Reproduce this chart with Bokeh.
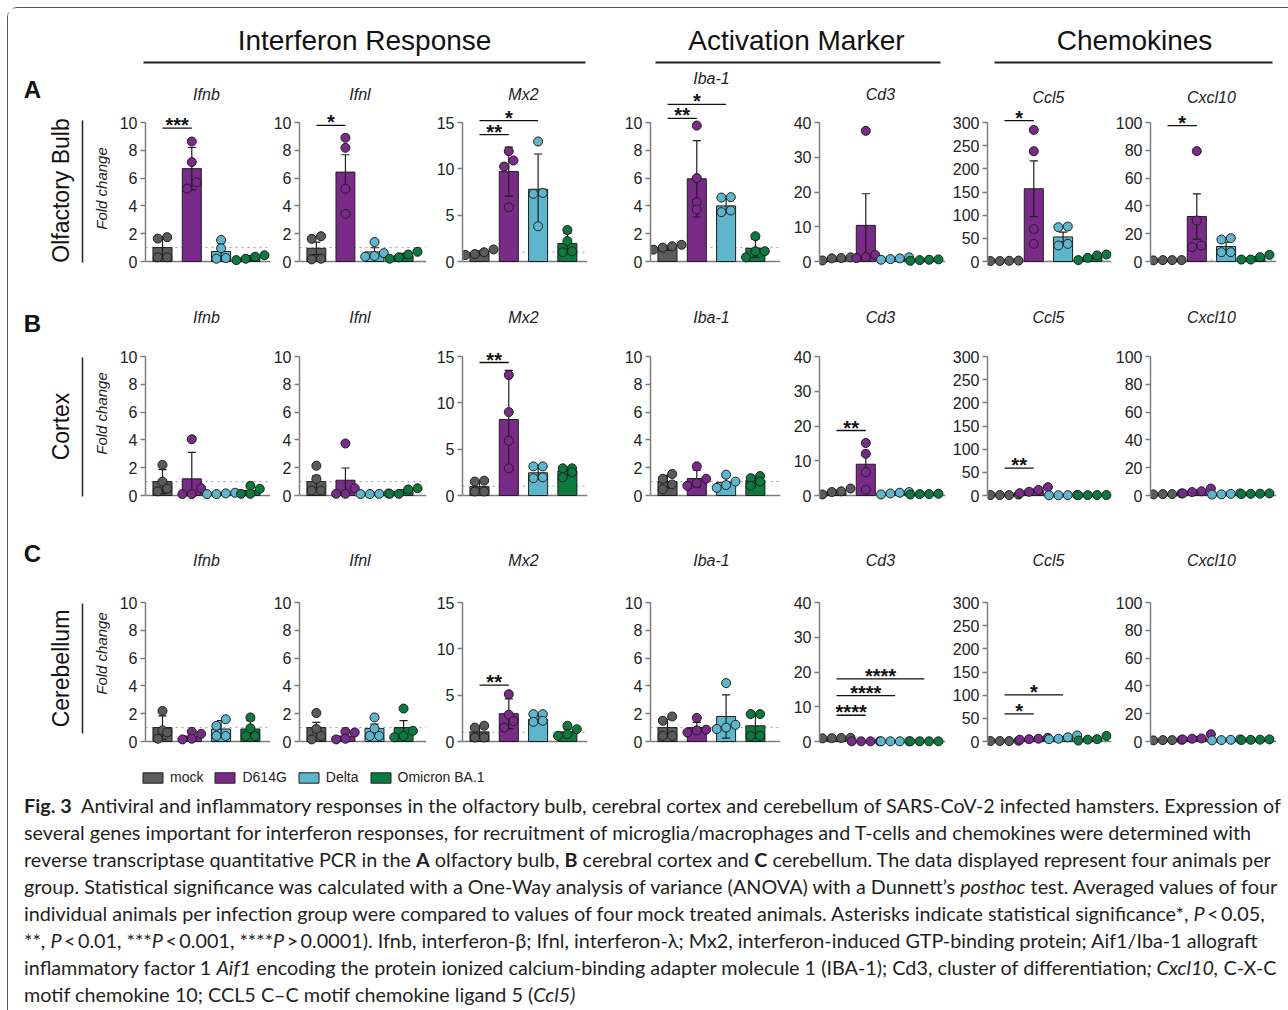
import math
from bokeh.plotting import figure
from bokeh.models import Range1d, FixedTicker, Span, Label, Div, Legend, LegendItem
from bokeh.layouts import row, column
from bokeh.embed import file_html
from bokeh.resources import INLINE

# ---------------- data ----------------
GROUPS = ["mock", "D614G", "Delta", "Omicron BA.1"]
COLORS = ["#5b5b5b", "#7a2a89", "#5cb6cc", "#0b7a3f"]
GENES = ["Ifnb", "Ifnl", "Mx2", "Iba-1", "Cd3", "Ccl5", "Cxcl10"]
Y_TOPS = [10, 10, 15, 10, 40, 300, 100]
TICKS_10 = [0, 2, 4, 6, 8, 10]
TICKS_15 = [0, 5, 10, 15]
TICKS_40 = [0, 10, 20, 30, 40]
TICKS_300 = [0, 50, 100, 150, 200, 250, 300]
TICKS_100 = [0, 20, 40, 60, 80, 100]
GENE_TICKS = [TICKS_10, TICKS_10, TICKS_15, TICKS_10, TICKS_40, TICKS_300, TICKS_100]
REGIONS = ["Olfactory Bulb", "Cortex", "Cerebellum"]
PANEL_LETTERS = ["A", "B", "C"]
SECTIONS = ["Interferon Response", "Activation Marker", "Chemokines"]
REF_LEVEL = 1.0

# Olfactory bulb (A): bar mean, error-bar half length, four animals, significance (vs mock)
OB_IFNB_MEAN = [1.0, 6.68, 0.72, 0.27]
OB_IFNB_ERR = [0.78, 1.52, 0.6, 0.15]
OB_IFNB_PTS = [[1.65, 1.75, 0.3, 0.3], [8.63, 7.15, 5.25, 5.7], [1.55, 0.95, 0.2, 0.25], [0.1, 0.35, 0.2, 0.45]]
OB_IFNB_SIG = [(1, 9.6, "***")]
OB_IFNL_MEAN = [0.95, 6.43, 0.69, 0.43]
OB_IFNL_ERR = [0.45, 1.25, 0.3, 0.15]
OB_IFNL_PTS = [[1.63, 1.82, 0.2, 0.15], [8.9, 8.18, 5.23, 3.43], [1.4, 0.6, 0.4, 0.35], [0.7, 0.5, 0.3, 0.2]]
OB_IFNL_SIG = [(1, 9.8, "*")]
OB_MX2_MEAN = [0.95, 9.7, 7.8, 1.95]
OB_MX2_ERR = [0.2, 2.65, 3.8, 1.1]
OB_MX2_PTS = [[1.3, 1.0, 0.8, 0.7], [11.9, 10.9, 10.25, 5.86], [12.95, 7.4, 7.3, 3.8], [3.4, 2.2, 1.1, 1.0]]
OB_MX2_SIG = [(1, 13.7, "**"), (2, 15.2, "*")]
OB_IBA1_MEAN = [0.95, 5.95, 4.0, 0.95]
OB_IBA1_ERR = [0.15, 2.75, 0.5, 0.65]
OB_IBA1_PTS = [[1.2, 1.1, 1.0, 0.85], [9.78, 6.0, 4.27, 3.74], [4.63, 4.6, 3.67, 3.55], [1.82, 0.74, 0.74, 0.3]]
OB_IBA1_SIG = [(1, 10.3, "**"), (2, 11.3, "*")]
OB_CD3_MEAN = [0.85, 10.4, 0.8, 0.45]
OB_CD3_ERR = [0.3, 9.1, 0.2, 0.15]
OB_CD3_PTS = [[0.3, 1.2, 1.0, 0.9], [37.6, 1.9, 1.25, 1.0], [1.2, 0.7, 0.9, 0.5], [0.2, 0.6, 0.5, 0.4]]
OB_CD3_SIG = []
OB_CCL5_MEAN = [1.2, 157, 53, 9.5]
OB_CCL5_ERR = [0.5, 60, 10.5, 3]
OB_CCL5_PTS = [[2, 1, 1.5, 1], [284, 238, 70, 38], [74, 75.5, 34.5, 38], [15, 8, 13, 3]]
OB_CCL5_SIG = [(1, 304, "*")]
OB_CXCL10_MEAN = [0.95, 32.4, 10.8, 2.6]
OB_CXCL10_ERR = [0.1, 16.3, 3.1, 0.9]
OB_CXCL10_PTS = [[1, 1, 1, 0.8], [79.4, 29.5, 11.5, 10.3], [15.8, 16.8, 6.7, 6.7], [4.8, 1.4, 1.4, 3.1]]
OB_CXCL10_SIG = [(1, 97.8, "*")]

# Cortex (B)
CX_IFNB_MEAN = [1.0, 1.2, 0.12, 0.36]
CX_IFNB_ERR = [0.86, 1.9, 0.05, 0.3]
CX_IFNB_PTS = [[2.2, 1.0, 0.3, 0.5], [4.05, 0.52, 0.1, 0.1], [0.2, 0.1, 0.15, 0.1], [0.7, 0.48, 0.12, 0.12]]
CX_IFNB_SIG = []
CX_IFNL_MEAN = [1.0, 1.1, 0.12, 0.3]
CX_IFNL_ERR = [0.43, 0.88, 0.05, 0.12]
CX_IFNL_PTS = [[2.14, 1.19, 0.36, 0.36], [3.74, 0.52, 0.12, 0.12], [0.15, 0.1, 0.12, 0.1], [0.52, 0.43, 0.12, 0.12]]
CX_IFNL_SIG = []
CX_MX2_MEAN = [0.95, 8.2, 2.45, 2.65]
CX_MX2_ERR = [0.65, 5.3, 0.7, 0.45]
CX_MX2_PTS = [[1.6, 1.5, 0.43, 0.43], [13.0, 9.0, 5.9, 2.93], [3.14, 3.14, 1.86, 1.96], [2.93, 2.93, 2.5, 1.96]]
CX_MX2_SIG = [(1, 14.35, "**")]
CX_IBA1_MEAN = [1.0, 1.22, 0.95, 1.08]
CX_IBA1_ERR = [0.45, 0.6, 0.35, 0.25]
CX_IBA1_PTS = [[1.55, 1.2, 0.45, 0.8], [2.1, 1.2, 0.9, 0.7], [1.5, 1.0, 0.55, 0.75], [1.4, 1.25, 1.0, 0.7]]
CX_IBA1_SIG = []
CX_CD3_MEAN = [1.1, 9.0, 0.7, 0.4]
CX_CD3_ERR = [0.4, 2.5, 0.2, 0.1]
CX_CD3_PTS = [[2.0, 1.0, 1.2, 0.3], [15.1, 12.0, 6.7, 1.7], [1.0, 0.6, 0.8, 0.3], [0.4, 0.5, 0.3, 0.4]]
CX_CD3_SIG = [(1, 18.7, "**")]
CX_CCL5_MEAN = [1.2, 10.8, 0.7, 0.9]
CX_CCL5_ERR = [0.3, 3.0, 0.2, 0.1]
CX_CCL5_PTS = [[2, 1, 1, 1], [18, 12, 8, 5], [1, 0.5, 0.8, 0.5], [1, 0.8, 1, 0.7]]
CX_CCL5_SIG = [(1, 58.9, "**")]
CX_CXCL10_MEAN = [1.1, 3.0, 1.05, 1.25]
CX_CXCL10_ERR = [0.2, 0.8, 0.2, 0.1]
CX_CXCL10_PTS = [[1.5, 1, 0.8, 1], [5, 3, 2.5, 1.5], [1.5, 1.2, 0.8, 0.7], [1.5, 1.2, 1.3, 1.0]]
CX_CXCL10_SIG = []

# Cerebellum (C)
CB_IFNB_MEAN = [1.0, 0.4, 0.9, 0.9]
CB_IFNB_ERR = [0.85, 0.3, 0.6, 0.6]
CB_IFNB_PTS = [[2.2, 0.8, 0.65, 0.2], [0.7, 0.55, 0.2, 0.15], [1.6, 1.13, 0.4, 0.4], [1.73, 0.95, 0.4, 0.4]]
CB_IFNB_SIG = []
CB_IFNL_MEAN = [1.0, 0.4, 0.94, 1.0]
CB_IFNL_ERR = [0.37, 0.3, 0.31, 0.5]
CB_IFNL_PTS = [[2.05, 0.9, 0.4, 0.15], [0.7, 0.65, 0.2, 0.15], [1.73, 0.94, 0.4, 0.4], [2.37, 0.77, 0.3, 0.4]]
CB_IFNL_SIG = []
CB_MX2_MEAN = [1.04, 3.0, 2.4, 1.04]
CB_MX2_ERR = [0.6, 1.6, 0.4, 0.3]
CB_MX2_PTS = [[1.5, 1.7, 0.43, 0.43], [5.1, 2.9, 2.2, 1.5], [2.95, 2.95, 2.23, 2.12], [1.7, 1.33, 0.61, 0.79]]
CB_MX2_SIG = [(1, 6.08, "**")]
CB_IBA1_MEAN = [1.0, 1.0, 1.8, 1.13]
CB_IBA1_ERR = [0.6, 0.37, 1.56, 0.9]
CB_IBA1_PTS = [[1.8, 1.49, 0.41, 0.41], [1.7, 0.85, 0.8, 0.65], [4.2, 1.2, 1.0, 0.9], [1.97, 1.97, 0.41, 0.41]]
CB_IBA1_SIG = []
CB_CD3_MEAN = [1.0, 0.05, 0.05, 0.05]
CB_CD3_ERR = [0.1, 0.02, 0.02, 0.02]
CB_CD3_PTS = [[1.0, 1.05, 0.95, 0.9], [0.05, 0.05, 0.05, 0.05], [0.05, 0.05, 0.05, 0.05], [0.05, 0.05, 0.05, 0.05]]
CB_CD3_SIG = [(1, 7.55, "****"), (2, 13.2, "****"), (3, 18.0, "****")]
CB_CCL5_MEAN = [1.2, 5.5, 8.0, 5.5]
CB_CCL5_ERR = [0.2, 1.0, 2.0, 2.0]
CB_CCL5_PTS = [[1.5, 1, 1, 1], [6, 8, 5, 4], [13, 9, 6, 5], [12, 5, 4, 2]]
CB_CCL5_SIG = [(1, 59.7, "*"), (2, 100.7, "*")]
CB_CXCL10_MEAN = [1.0, 2.7, 1.1, 1.3]
CB_CXCL10_ERR = [0.1, 0.8, 0.2, 0.1]
CB_CXCL10_PTS = [[1.2, 1, 0.8, 1], [5.2, 2.2, 2.0, 1.5], [1.5, 1.2, 1, 0.8], [1.5, 1.2, 1.3, 1.1]]
CB_CXCL10_SIG = []

ROWS_DATA = [
    [(OB_IFNB_MEAN, OB_IFNB_ERR, OB_IFNB_PTS, OB_IFNB_SIG), (OB_IFNL_MEAN, OB_IFNL_ERR, OB_IFNL_PTS, OB_IFNL_SIG),
     (OB_MX2_MEAN, OB_MX2_ERR, OB_MX2_PTS, OB_MX2_SIG), (OB_IBA1_MEAN, OB_IBA1_ERR, OB_IBA1_PTS, OB_IBA1_SIG),
     (OB_CD3_MEAN, OB_CD3_ERR, OB_CD3_PTS, OB_CD3_SIG), (OB_CCL5_MEAN, OB_CCL5_ERR, OB_CCL5_PTS, OB_CCL5_SIG),
     (OB_CXCL10_MEAN, OB_CXCL10_ERR, OB_CXCL10_PTS, OB_CXCL10_SIG)],
    [(CX_IFNB_MEAN, CX_IFNB_ERR, CX_IFNB_PTS, CX_IFNB_SIG), (CX_IFNL_MEAN, CX_IFNL_ERR, CX_IFNL_PTS, CX_IFNL_SIG),
     (CX_MX2_MEAN, CX_MX2_ERR, CX_MX2_PTS, CX_MX2_SIG), (CX_IBA1_MEAN, CX_IBA1_ERR, CX_IBA1_PTS, CX_IBA1_SIG),
     (CX_CD3_MEAN, CX_CD3_ERR, CX_CD3_PTS, CX_CD3_SIG), (CX_CCL5_MEAN, CX_CCL5_ERR, CX_CCL5_PTS, CX_CCL5_SIG),
     (CX_CXCL10_MEAN, CX_CXCL10_ERR, CX_CXCL10_PTS, CX_CXCL10_SIG)],
    [(CB_IFNB_MEAN, CB_IFNB_ERR, CB_IFNB_PTS, CB_IFNB_SIG), (CB_IFNL_MEAN, CB_IFNL_ERR, CB_IFNL_PTS, CB_IFNL_SIG),
     (CB_MX2_MEAN, CB_MX2_ERR, CB_MX2_PTS, CB_MX2_SIG), (CB_IBA1_MEAN, CB_IBA1_ERR, CB_IBA1_PTS, CB_IBA1_SIG),
     (CB_CD3_MEAN, CB_CD3_ERR, CB_CD3_PTS, CB_CD3_SIG), (CB_CCL5_MEAN, CB_CCL5_ERR, CB_CCL5_PTS, CB_CCL5_SIG),
     (CB_CXCL10_MEAN, CB_CXCL10_ERR, CB_CXCL10_PTS, CB_CXCL10_SIG)],
]

CAPTION_LINES = [
    "<b>Fig.&nbsp;3</b>&nbsp; Antiviral and inflammatory responses in the olfactory bulb, cerebral cortex and cerebellum of SARS-CoV-2 infected hamsters. Expression of",
    "several genes important for interferon responses, for recruitment of microglia/macrophages and T-cells and chemokines were determined with",
    "reverse transcriptase quantitative PCR in the <b>A</b> olfactory bulb, <b>B</b> cerebral cortex and <b>C</b> cerebellum. The data displayed represent four animals per",
    "group. Statistical significance was calculated with a One-Way analysis of variance (ANOVA) with a Dunnett\u2019s <i>posthoc</i> test. Averaged values of four",
    "individual animals per infection group were compared to values of four mock treated animals. Asterisks indicate statistical significance*, <i>P</i>&thinsp;&lt;&thinsp;0.05,",
    "**, <i>P</i>&thinsp;&lt;&thinsp;0.01, ***<i>P</i>&thinsp;&lt;&thinsp;0.001, ****<i>P</i>&thinsp;&gt;&thinsp;0.0001). Ifnb, interferon-\u03b2; Ifnl, interferon-\u03bb; Mx2, interferon-induced GTP-binding protein; Aif1/Iba-1 allograft",
    "inflammatory factor 1 <i>Aif1</i> encoding the protein ionized calcium-binding adapter molecule 1 (IBA-1); Cd3, cluster of differentiation<i>; Cxcl10,</i> C-X-C",
    "motif chemokine 10; CCL5 C\u2013C motif chemokine ligand 5 (<i>Ccl5)</i>",
]

# ---------------- layout constants ----------------
FONT = "Liberation Sans"
INK = "#1e1e1e"
AXIS_GRAY = "#7d7d7d"
PAGE_W = 1270
X0 = 8
PX_FULL = 139.0      # pixels from 0 to the top tick
PX_UNIT = 29.3       # pixels between bar centres
XSTART = 0.42
BAR_W = 0.65
AXP = [145, 298, 462, 650, 819, 987, 1150]
LB = [35, 28, 34, 40, 36, 40, 38]
FW = [125, 128, 125, 130, 126, 124, 126]
RB = [0, 2, 23, 3, 2, 1, 2]
ROW_GEOM = [(66, 261, 276), (276, 495, 510), (510, 741, 756)]
TITLE_PX = [[94, 94, 94, 78, 94, 97, 97], [317] * 7, [560] * 7]
LETTER_Y = [89, 323, 553]
REGION_Y = [190, 426, 668]
RULE_Y = [(120, 262), (357, 496), (603, 733)]
FOLD_Y = [188, 413, 653]
XPOS = [1, 2, 3, 4]


def swarm(vals, ppv, thr=7.0, step=0.32):
    order = sorted(range(len(vals)), key=lambda i: vals[i])
    offs = [0.0] * len(vals)
    bands = []
    for i in order:
        if bands and (vals[i] - vals[bands[-1][0]]) * ppv < thr:
            bands[-1].append(i)
        else:
            bands.append([i])
    for b in bands:
        n = len(b)
        for j, i in enumerate(b):
            offs[i] = (j - (n - 1) / 2.0) * step
    return offs


def make_panel(ri, ci, mean, err, pts, sig):
    top_px, zero_px, bot_px = ROW_GEOM[ri]
    T = Y_TOPS[ci]
    k = T / PX_FULL
    p = figure(width=LB[ci] + FW[ci] + RB[ci], height=bot_px - top_px,
               x_range=Range1d(XSTART, XSTART + FW[ci] / PX_UNIT),
               y_range=Range1d(-(bot_px - zero_px) * k, (zero_px - top_px) * k),
               x_axis_location=None, toolbar_location=None, output_backend="svg", title=None,
               min_border_left=LB[ci], min_border_right=RB[ci], min_border_top=0, min_border_bottom=0)
    p.grid.visible = False
    p.outline_line_color = None
    ax = p.yaxis[0]
    ax.bounds = (0, T)
    ax.ticker = FixedTicker(ticks=GENE_TICKS[ci])
    ax.minor_tick_line_color = None
    ax.major_tick_out = 5
    ax.major_tick_in = 0
    ax.axis_line_color = AXIS_GRAY
    ax.axis_line_width = 1.5
    ax.major_tick_line_color = AXIS_GRAY
    ax.major_tick_line_width = 1.5
    ax.major_label_text_font = FONT
    ax.major_label_text_font_size = "16px"
    ax.major_label_text_color = "#222222"
    ax.major_label_standoff = 3

    p.add_layout(Span(location=0, dimension="width", line_color=AXIS_GRAY, line_width=1.5, level="underlay"))
    p.add_layout(Span(location=REF_LEVEL, dimension="width", line_color="#999999", line_width=1,
                      line_dash="dotted", level="underlay"))

    p.vbar(x=XPOS, top=mean, width=BAR_W, bottom=0, fill_color=COLORS, line_color=INK, line_width=1)
    lo = [max(m - e, 0) for m, e in zip(mean, err)]
    hi = [m + e for m, e in zip(mean, err)]
    p.segment(x0=XPOS, y0=lo, x1=XPOS, y1=hi, line_color=INK, line_width=1.2)
    p.segment(x0=[x - 0.14 for x in XPOS], y0=hi, x1=[x + 0.14 for x in XPOS], y1=hi, line_color=INK, line_width=1.2)
    p.segment(x0=[x - 0.14 for x in XPOS], y0=lo, x1=[x + 0.14 for x in XPOS], y1=lo, line_color=INK, line_width=1.2)

    xs, ys, cs = [], [], []
    for g, vals in enumerate(pts):
        offs = swarm(vals, 1.0 / k)
        for v, o in zip(vals, offs):
            xs.append(XPOS[g] + o)
            ys.append(v)
            cs.append(COLORS[g])
    p.scatter(x=xs, y=ys, size=9, fill_color=cs, line_color=INK, line_width=1)

    for (j, h, stars) in sig:
        p.segment(x0=[XPOS[0]], y0=[h], x1=[XPOS[j]], y1=[h], line_color="#111111", line_width=1.3)
        p.add_layout(Label(x=(XPOS[0] + XPOS[j]) / 2.0, y=h + 3 * k, text=stars, text_align="center",
                           text_baseline="alphabetic", text_font=FONT, text_font_size="20px",
                           text_font_style="bold", text_color="#111111"))

    p.add_layout(Label(x=2.5, y=(zero_px - TITLE_PX[ri][ci]) * k, text=GENES[ci], text_align="center",
                       text_baseline="middle", text_font=FONT, text_font_size="16px",
                       text_font_style="italic", text_color="#222222"))
    return p


def make_side(ri):
    top_px, zero_px, bot_px = ROW_GEOM[ri]
    w = AXP[0] - LB[0] - X0
    p = figure(width=w, height=bot_px - top_px, x_range=Range1d(X0, X0 + w),
               y_range=Range1d(bot_px, top_px), x_axis_location=None, y_axis_location=None,
               toolbar_location=None, output_backend="svg", title=None,
               min_border_left=0, min_border_right=0, min_border_top=0, min_border_bottom=0)
    p.grid.visible = False
    p.outline_line_color = None
    p.add_layout(Label(x=32, y=LETTER_Y[ri], text=PANEL_LETTERS[ri], text_align="center", text_baseline="middle",
                       text_font=FONT, text_font_size="24px", text_font_style="bold", text_color="#111111"))
    p.add_layout(Label(x=60, y=REGION_Y[ri], text=REGIONS[ri], angle=math.pi / 2, text_align="center",
                       text_baseline="middle", text_font=FONT, text_font_size="23px", text_color="#111111"))
    p.segment(x0=[82], y0=[RULE_Y[ri][0]], x1=[82], y1=[RULE_Y[ri][1]], line_color="#222222", line_width=1.5)
    p.add_layout(Label(x=101, y=FOLD_Y[ri], text="Fold change", angle=math.pi / 2, text_align="center",
                       text_baseline="middle", text_font=FONT, text_font_size="15px",
                       text_font_style="italic", text_color="#222222"))
    return p


def make_header():
    h = 58
    p = figure(width=PAGE_W, height=h, x_range=Range1d(X0, X0 + PAGE_W), y_range=Range1d(X0 + h, X0),
               x_axis_location=None, y_axis_location=None, toolbar_location=None, output_backend="svg",
               title=None, min_border_left=0, min_border_right=0, min_border_top=0, min_border_bottom=0)
    p.grid.visible = False
    p.outline_line_color = None
    centers = [364, 796, 1134]
    spans = [(143, 585), (655, 940), (994, 1272)]
    for s, cx, (a, b) in zip(SECTIONS, centers, spans):
        p.add_layout(Label(x=cx, y=40, text=s, text_align="center", text_baseline="middle",
                           text_font=FONT, text_font_size="28px", text_color="#111111"))
        p.segment(x0=[a], y0=[62], x1=[b], y1=[62], line_color="#222222", line_width=2)
    return p


def make_legend():
    h = 31
    p = figure(width=PAGE_W, height=h, x_range=Range1d(0, 1), y_range=Range1d(0, 1),
               x_axis_location=None, y_axis_location=None, toolbar_location=None, output_backend="svg",
               title=None, min_border_left=0, min_border_right=0, min_border_top=0, min_border_bottom=0)
    p.grid.visible = False
    p.outline_line_color = None
    items = []
    for g, c in zip(GROUPS, COLORS):
        # off-screen swatch renderer: only its legend glyph is visible
        r = p.vbar(x=[5], top=[1], width=0.1, fill_color=c, line_color=INK, line_width=1)
        items.append(LegendItem(label=g, renderers=[r]))
    leg = Legend(items=items, orientation="horizontal", location=(132, 2), glyph_width=25, glyph_height=13,
                 label_height=13, label_standoff=5, spacing=9, padding=0, margin=0,
                 border_line_color=None, background_fill_alpha=0,
                 label_text_font=FONT, label_text_font_size="14px", label_text_color="#222222")
    p.add_layout(leg)
    return p


rows = []
for ri in range(3):
    figs = [make_side(ri)]
    for ci in range(7):
        mean, err, pts, sig = ROWS_DATA[ri][ci]
        figs.append(make_panel(ri, ci, mean, err, pts, sig))
    rows.append(row(*figs, spacing=0))

caption = Div(text="<div style=\"font-family:Lato,'Open Sans',sans-serif;font-size:19.8px;line-height:27px;"
                   "color:#231f20;white-space:nowrap;padding-left:11px;\">" + "<br>".join(CAPTION_LINES) + "</div>",
              width=PAGE_W, height=216)

layout = column(make_header(), *rows, make_legend(), caption, spacing=0,
                styles={"margin-left": "7px", "margin-top": "7px",
                        "border-left": "1.5px solid #555", "border-top": "1.5px solid #555",
                        "border-top-left-radius": "10px"})

open("out.html", "w").write(file_html(layout, INLINE))
